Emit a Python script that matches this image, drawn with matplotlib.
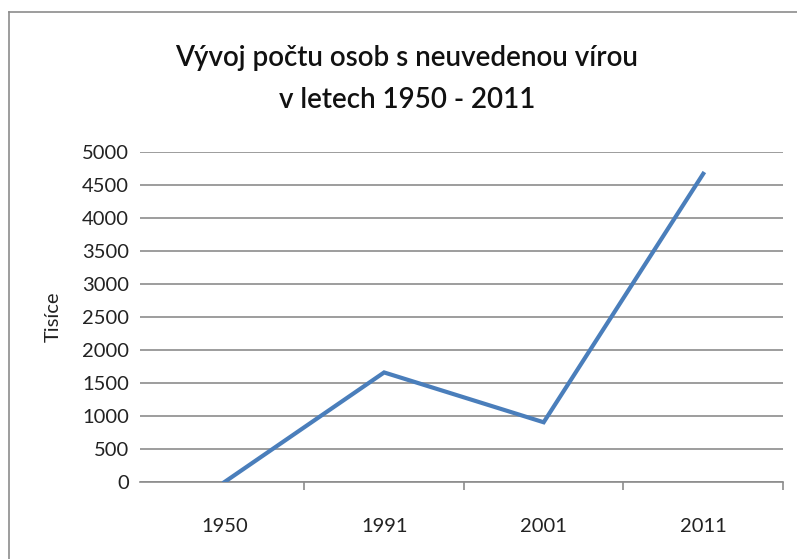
import matplotlib
matplotlib.use("Agg")
import matplotlib.pyplot as plt
from matplotlib.lines import Line2D

categories = ["1950", "1991", "2001", "2011"]
values = [0, 1660, 905, 4670]
yticks = [0, 500, 1000, 1500, 2000, 2500, 3000, 3500, 4000, 4500, 5000]
title = "Vývoj počtu osob s neuvedenou vírou\nv letech 1950 - 2011"
ylabel = "Tisíce"

plt.rcParams['font.family'] = ['Lato', 'DejaVu Sans']

W, H = 797, 559
fig = plt.figure(figsize=(W / 100, H / 100), dpi=100)
fig.patch.set_facecolor("white")

ax = fig.add_axes([140 / W, 1 - 482 / H, (783 - 140) / W, (482 - 152) / H])
x = list(range(len(categories)))
ax.plot(x, values, color="#4A7EBB", linewidth=3.0, solid_joinstyle="miter", zorder=3)

ax.set_xlim(-0.53, 3.5)
ax.set_ylim(0, 5000)
ax.set_yticks(yticks)
ax.set_yticklabels([str(v) for v in yticks], fontsize=14.5, color="#222222")
ax.yaxis.grid(True, color="#8c8c8c", linewidth=1.2)
ax.set_axisbelow(True)
ax.tick_params(axis="y", length=0, pad=8)

ax.set_xticks(x)
ax.set_xticklabels(categories, fontsize=14.5, color="#222222")
ax.tick_params(axis="x", which="major", length=0, pad=26)
ax.set_xticks([0.5, 1.5, 2.5, 3.5], minor=True)
ax.tick_params(axis="x", which="minor", length=6, width=1.2, color="#8c8c8c", direction="out")

for s in ["left", "right", "top"]:
    ax.spines[s].set_visible(False)
ax.spines["bottom"].set_color("#8c8c8c")
ax.spines["bottom"].set_linewidth(1.2)

ax.set_ylabel(ylabel, fontsize=14.5, color="#222222")
ax.yaxis.set_label_coords((62 - 140) / (783 - 140), 0.5)

fig.text(407 / W, 1 - 79 / H, title, ha="center", va="center", fontsize=20,
         fontweight="semibold", color="#111111", linespacing=1.75)

# chart border (left and top edges visible)
fig.add_artist(Line2D([9 / W, 9 / W], [0, 1 - 12 / H], transform=fig.transFigure,
                      color="#8c8c8c", linewidth=1.2))
fig.add_artist(Line2D([9 / W, 1], [1 - 12 / H, 1 - 12 / H], transform=fig.transFigure,
                      color="#8c8c8c", linewidth=1.2))

fig.savefig("out.png", dpi=100, facecolor="white")
